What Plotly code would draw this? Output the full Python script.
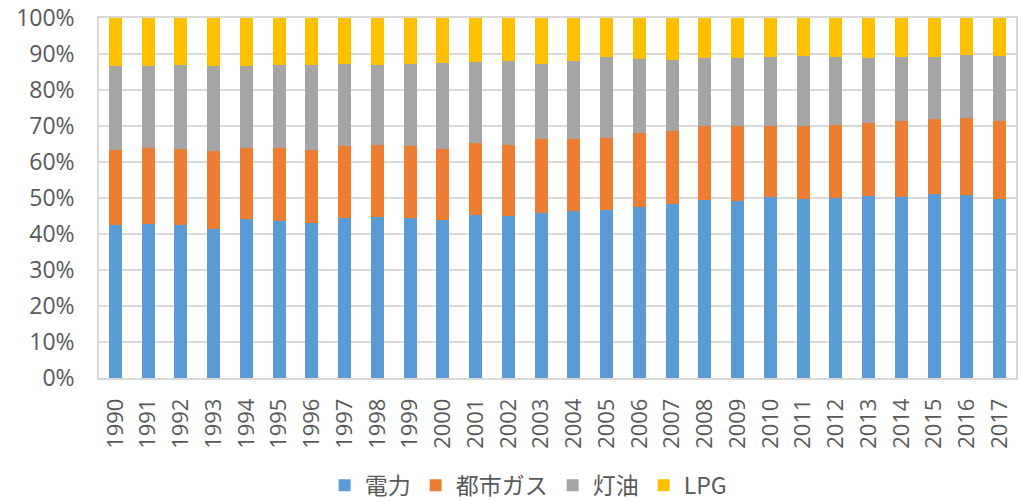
import plotly.graph_objects as go

years = [str(y) for y in range(1990, 2018)]
electricity = [42.4, 42.7, 42.4, 41.5, 44.1, 43.5, 43.1, 44.5, 44.7, 44.5, 43.8, 45.3, 45.1, 45.7,
               46.5, 46.6, 47.6, 48.2, 49.5, 49.3, 50.4, 49.7, 50.1, 50.5, 50.2, 51.0, 50.8, 49.8]
city_gas = [20.8, 21.1, 21.1, 21.5, 19.9, 20.5, 20.2, 20.0, 20.0, 20.0, 19.9, 19.9, 19.7, 20.6,
            19.8, 20.0, 20.4, 20.5, 20.6, 20.6, 19.7, 20.4, 20.2, 20.4, 21.3, 21.0, 21.4, 21.6]
kerosene = [23.5, 23.0, 23.5, 23.8, 22.8, 23.0, 23.7, 22.8, 22.15, 22.6, 23.9, 22.7, 23.3, 20.8,
            21.8, 22.5, 20.7, 19.7, 18.7, 19.1, 19.0, 19.4, 18.8, 18.1, 17.8, 17.1, 17.5, 18.0]
lpg = [13.2, 13.2, 13.0, 13.2, 13.2, 13.0, 13.0, 12.7, 13.15, 12.9, 12.4, 12.1, 11.9, 12.9,
       11.9, 10.9, 11.3, 11.6, 11.2, 11.0, 10.9, 10.5, 10.9, 11.0, 10.7, 10.9, 10.3, 10.6]

series = [("電力", electricity, "#5b9bd5"),
          ("都市ガス", city_gas, "#ed7d31"),
          ("灯油", kerosene, "#a5a5a5"),
          ("LPG", lpg, "#ffc000")]

fig = go.Figure()
for name, vals, color in series:
    fig.add_trace(go.Bar(x=years, y=vals, name=name, marker=dict(color=color, line=dict(width=0))))

tick_font = "Open Sans, Noto Sans, sans-serif"
cjk_font = "Noto Sans CJK JP, Noto Sans, sans-serif"
fig.update_layout(
    barmode="stack",
    barnorm="percent",
    bargap=0.6,
    width=1021, height=502,
    margin=dict(l=99, r=5, t=18, b=124, autoexpand=False),
    plot_bgcolor="white", paper_bgcolor="white",
    font=dict(family=tick_font, color="#595959", size=22),
    legend=dict(orientation="h", x=0.468, xanchor="center", y=-0.298, yanchor="middle",
                font=dict(size=23, color="#595959", family=cjk_font), traceorder="normal",
                itemwidth=30, tracegroupgap=0),
    showlegend=True,
)
fig.update_xaxes(tickangle=-90, tickfont=dict(size=22), showline=True, linecolor="#d9d9d9",
                 linewidth=1.5, mirror=True, ticks="", type="category", automargin=False,
                 ticklabelstandoff=10)
fig.update_yaxes(range=[0, 100], tickvals=list(range(0, 101, 10)),
                 ticktext=[f"{v}%" for v in range(0, 101, 10)],
                 tickfont=dict(size=23), showgrid=True, gridcolor="#d9d9d9", gridwidth=1.5,
                 showline=True, linecolor="#d9d9d9", linewidth=1.5, mirror=True, ticks="",
                 zeroline=False, automargin=False, ticklabelstandoff=18)

fig.write_html("out.html", config={"displayModeBar": False},
               post_script="document.body.style.margin='0';document.body.style.overflow='hidden';")
